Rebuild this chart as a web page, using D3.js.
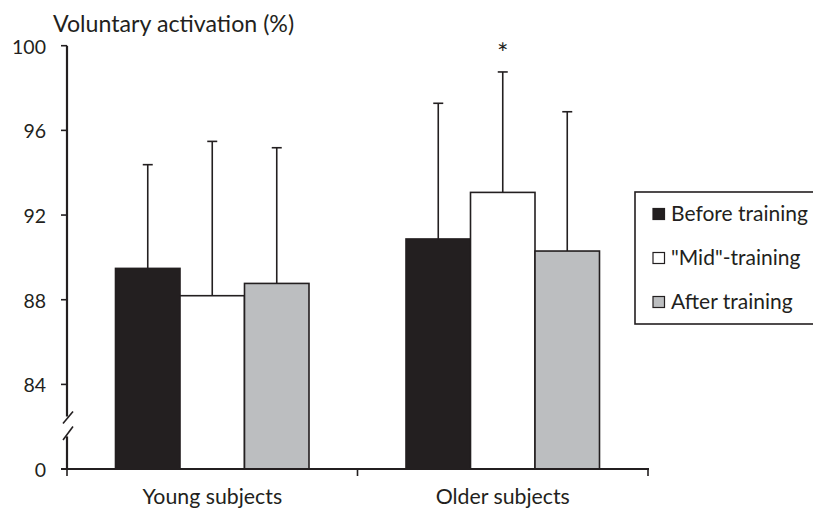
<!DOCTYPE html>
<html>
<head>
<meta charset="utf-8">
<script src="https://cdn.jsdelivr.net/npm/d3@7"></script>
<style>
  html, body { margin: 0; padding: 0; background: #fff; }
  svg { display: block; }
  text { font-family: Lato, "Open Sans", sans-serif; fill: #231f20; }
</style>
</head>
<body>
<svg id="chart" width="813" height="509"></svg>
<script>
// ---- data ----
const categories = ["Young subjects", "Older subjects"];
const seriesNames = ["Before training", "\"Mid\"-training", "After training"];
const seriesColors = ["#231f20", "#ffffff", "#bcbec0"];
const beforeMean = [89.48, 90.87];
const midMean    = [88.19, 93.07];
const afterMean  = [88.77, 90.30];
const beforeSD   = [4.90, 6.41];
const midSD      = [7.29, 5.69];
const afterSD    = [6.41, 6.58];
const yTicks = [0, 84, 88, 92, 96, 100];
const yTitle = "Voluntary activation (%)";
const significant = [[1, 1]]; // [category index, series index]

const means = [beforeMean, midMean, afterMean];
const sds = [beforeSD, midSD, afterSD];

const svg = d3.select("#chart");
const ink = "#231f20";
const fs = 21;

// scales
const axisX = 67, axisRight = 648, baseY = 469;
const x0 = d3.scaleBand().domain(categories).range([axisX, axisRight]).paddingInner(0).paddingOuter(0);
const x1 = d3.scaleBand().domain(d3.range(seriesNames.length)).range([0, x0.bandwidth()]).paddingInner(0).paddingOuter(0.752);
// broken axis: 0 .. 84 compressed, 84 .. 100 linear
const y = d3.scaleLinear().domain([0, 84, 100]).range([baseY, 384.4, 45.7]);

// bars
const data = [];
categories.forEach((c, ci) => {
  seriesNames.forEach((s, si) => {
    data.push({ c, ci, si, v: means[si][ci], sd: sds[si][ci] });
  });
});

const g = svg.append("g");
// error bars (behind bars)
g.selectAll("line.err").data(data).enter().append("line")
  .attr("class", "err")
  .attr("x1", d => x0(d.c) + x1(d.si) + x1.bandwidth() / 2)
  .attr("x2", d => x0(d.c) + x1(d.si) + x1.bandwidth() / 2)
  .attr("y1", d => y(d.v))
  .attr("y2", d => y(d.v + d.sd))
  .attr("stroke", ink).attr("stroke-width", 1.6);
g.selectAll("line.cap").data(data).enter().append("line")
  .attr("class", "cap")
  .attr("x1", d => x0(d.c) + x1(d.si) + x1.bandwidth() / 2 - 5)
  .attr("x2", d => x0(d.c) + x1(d.si) + x1.bandwidth() / 2 + 5)
  .attr("y1", d => y(d.v + d.sd))
  .attr("y2", d => y(d.v + d.sd))
  .attr("stroke", ink).attr("stroke-width", 1.6);

g.selectAll("rect.bar").data(data).enter().append("rect")
  .attr("class", "bar")
  .attr("x", d => x0(d.c) + x1(d.si))
  .attr("width", x1.bandwidth())
  .attr("y", d => y(d.v))
  .attr("height", d => y(0) - y(d.v))
  .attr("fill", d => seriesColors[d.si])
  .attr("stroke", ink).attr("stroke-width", 1.6);

// significance marker
significant.forEach(([ci, si]) => {
  const d = data.find(e => e.ci === ci && e.si === si);
  svg.append("text")
    .attr("x", x0(d.c) + x1(d.si) + x1.bandwidth() / 2)
    .attr("y", y(d.v + d.sd) - 9)
    .attr("text-anchor", "middle")
    .attr("font-size", 27)
    .text("*");
});

// y axis (with break)
const breakTop = y(84) + 32, breakBot = y(84) + 52;
svg.append("line").attr("x1", axisX).attr("x2", axisX).attr("y1", y(100)).attr("y2", breakTop)
  .attr("stroke", ink).attr("stroke-width", 2.2);
svg.append("line").attr("x1", axisX).attr("x2", axisX).attr("y1", breakBot).attr("y2", baseY)
  .attr("stroke", ink).attr("stroke-width", 2.2);
[[breakTop + 7, breakTop - 5], [breakBot + 3.5, breakBot - 10]].forEach(([ya, yb]) => {
  svg.append("line").attr("x1", axisX - 4).attr("x2", axisX + 6).attr("y1", ya).attr("y2", yb)
    .attr("stroke", ink).attr("stroke-width", 1.6);
});
const yt = svg.append("g");
yt.selectAll("line").data(yTicks).enter().append("line")
  .attr("x1", axisX - 6).attr("x2", axisX).attr("y1", d => y(d)).attr("y2", d => y(d))
  .attr("stroke", ink).attr("stroke-width", 1.6);
yt.selectAll("text").data(yTicks).enter().append("text")
  .attr("x", 46).attr("y", d => y(d) + 1).attr("dy", "0.35em")
  .attr("text-anchor", "end").attr("font-size", 19.5)
  .text(d => d);

// x axis
svg.append("line").attr("x1", axisX - 6).attr("x2", axisRight + 1).attr("y1", baseY).attr("y2", baseY)
  .attr("stroke", ink).attr("stroke-width", 2.2);
const xb = [axisX].concat(categories.map(c => x0(c) + x0.bandwidth()));
svg.selectAll("line.xt").data(xb).enter().append("line")
  .attr("class", "xt")
  .attr("x1", d => d).attr("x2", d => d).attr("y1", baseY).attr("y2", baseY + 7)
  .attr("stroke", ink).attr("stroke-width", 1.6);
svg.selectAll("text.xl").data(categories).enter().append("text")
  .attr("class", "xl")
  .attr("x", d => x0(d) + x0.bandwidth() / 2)
  .attr("y", 504)
  .attr("text-anchor", "middle").attr("font-size", 21.3)
  .text(d => d);

// y title
svg.append("text").attr("x", 53).attr("y", 32).attr("font-size", 23.2).text(yTitle);

// legend
const lg = svg.append("g");
lg.append("rect").attr("x", 635).attr("y", 192).attr("width", 240).attr("height", 132)
  .attr("fill", "#fff").attr("stroke", ink).attr("stroke-width", 1.6);
seriesNames.forEach((s, i) => {
  const cy = 214 + i * 44;
  lg.append("rect").attr("x", 653).attr("y", cy - 5.5).attr("width", 11.5).attr("height", 11)
    .attr("fill", seriesColors[i]).attr("stroke", ink).attr("stroke-width", 1.2);
  lg.append("text").attr("x", 671).attr("y", cy).attr("dy", "0.35em").attr("font-size", fs).text(s);
});
</script>
</body>
</html>
